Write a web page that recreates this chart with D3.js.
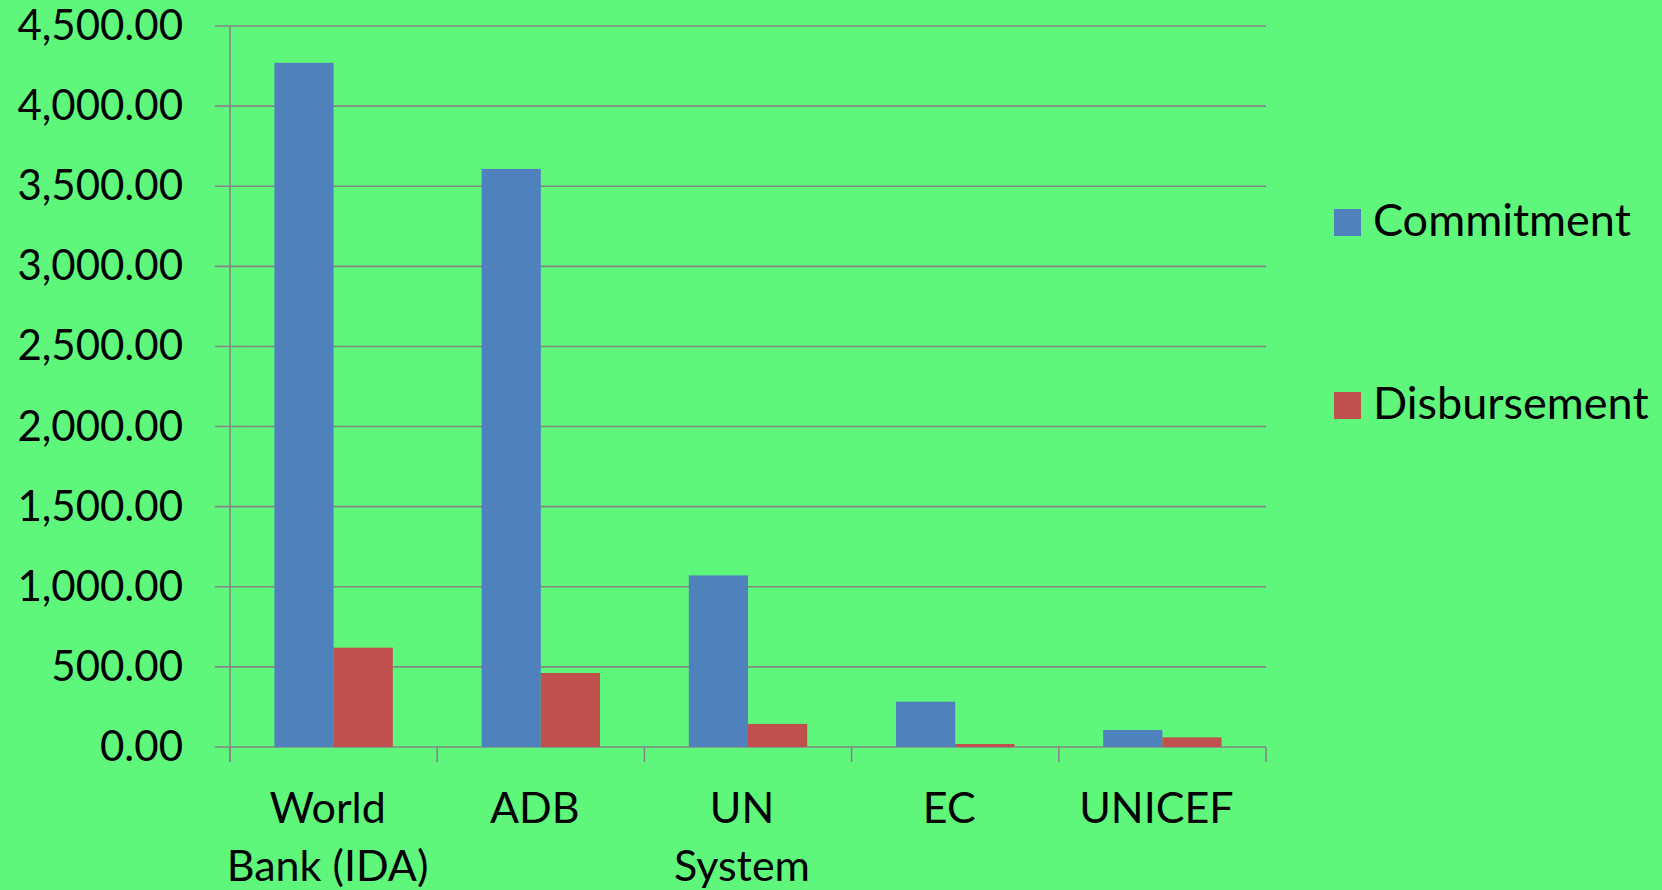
<!DOCTYPE html>
<html>
<head>
<meta charset="utf-8">
<script src="https://cdn.jsdelivr.net/npm/d3@7"></script>
<style>
  html, body { margin: 0; padding: 0; background: #5ff77b; overflow: hidden; }
  text { font-family: Lato, "Open Sans", sans-serif; fill: #000; }
</style>
</head>
<body>
<div id="chart"></div>
<script>
// chart data
const categories = [["World", "Bank (IDA)"], ["ADB"], ["UN", "System"], ["EC"], ["UNICEF"]];
const seriesNames = ["Commitment", "Disbursement"];
const commitment = [4270, 3608, 1071, 283, 106];
const disbursement = [620, 462, 144, 19, 60];
const yTicks = [0, 500, 1000, 1500, 2000, 2500, 3000, 3500, 4000, 4500];
const colors = ["#4f81bd", "#c0504d"];

const width = 1662, height = 890;
const plot = { left: 230, right: 1266, top: 26, bottom: 747 };
const fontSize = 42;

const svg = d3.select('#chart')
  .append('svg')
  .attr('width', width)
  .attr('height', height)
  .style('background-color', '#5ff77b');

const catKeys = categories.map(c => c.join(' '));
// gap width 150%: bars take 2/3.5 of each category
const x = d3.scaleBand().domain(catKeys).range([plot.left, plot.right])
  .paddingInner(1.5 / 3.5).paddingOuter(0.75 / 3.5);
const x1 = d3.scaleBand().domain(seriesNames).range([0, x.bandwidth()]);
const y = d3.scaleLinear().domain([0, 4500]).range([plot.bottom, plot.top]);

// gridlines (with little ticks out to the left)
svg.append('g')
  .selectAll('line')
  .data(yTicks)
  .enter()
  .append('line')
  .attr('x1', plot.left - 15)
  .attr('x2', plot.right)
  .attr('y1', d => y(d))
  .attr('y2', d => y(d))
  .attr('stroke', '#868686')
  .attr('stroke-width', 1.6);

// y labels
const yAxis = svg.append('g')
  .attr('transform', 'translate(' + plot.left + ',0)')
  .call(d3.axisLeft(y).tickValues(yTicks).tickFormat(d3.format(',.2f')).tickSize(0).tickPadding(47));
yAxis.select('.domain').remove();
yAxis.selectAll('text').style('font-size', fontSize + 'px').style('font-family', 'Lato, sans-serif').attr('fill', '#000');

// vertical axis line
svg.append('line')
  .attr('x1', plot.left).attr('x2', plot.left)
  .attr('y1', plot.top).attr('y2', plot.bottom + 15)
  .attr('stroke', '#868686').attr('stroke-width', 1.6);

// category tick marks at band boundaries
const step = x.step();
const boundaries = catKeys.map(k => x(k) - x.paddingOuter() * step).concat([plot.right]);
svg.append('g')
  .selectAll('line')
  .data(boundaries)
  .enter()
  .append('line')
  .attr('x1', d => d).attr('x2', d => d)
  .attr('y1', plot.bottom).attr('y2', plot.bottom + 15)
  .attr('stroke', '#868686').attr('stroke-width', 1.6);

// bars
const rows = catKeys.map((k, i) => ({ key: k, values: [commitment[i], disbursement[i]] }));
const groups = svg.append('g')
  .selectAll('g')
  .data(rows)
  .enter()
  .append('g')
  .attr('transform', d => 'translate(' + x(d.key) + ',0)');
groups.selectAll('rect')
  .data(d => d.values.map((v, j) => ({ name: seriesNames[j], value: v, color: colors[j] })))
  .enter()
  .append('rect')
  .attr('x', d => x1(d.name))
  .attr('width', x1.bandwidth())
  .attr('y', d => y(d.value))
  .attr('height', d => y(0) - y(d.value))
  .style('fill', d => d.color);

// category labels (wrapped), sit a bit left of band centre like the original
const catLabels = svg.append('g')
  .selectAll('text')
  .data(categories)
  .enter()
  .append('text')
  .attr('x', (d, i) => x(catKeys[i]) + x.bandwidth() / 2 - 6)
  .attr('y', 823)
  .attr('text-anchor', 'middle')
  .style('font-size', '43px');
catLabels.selectAll('tspan')
  .data(d => d)
  .enter()
  .append('tspan')
  .attr('x', function() { return d3.select(this.parentNode).attr('x'); })
  .attr('dy', (d, i) => i === 0 ? 0 : 58)
  .text(d => d);

// legend
const legend = svg.append('g')
  .selectAll('g')
  .data(seriesNames)
  .enter()
  .append('g')
  .attr('transform', (d, i) => 'translate(1334,' + (209 + i * 183) + ')');
legend.append('rect')
  .attr('width', 27).attr('height', 27)
  .style('fill', (d, i) => colors[i]);
legend.append('text')
  .attr('x', 39).attr('y', 27)
  .style('font-size', '45px')
  .text(d => d);
</script>
</body>
</html>
